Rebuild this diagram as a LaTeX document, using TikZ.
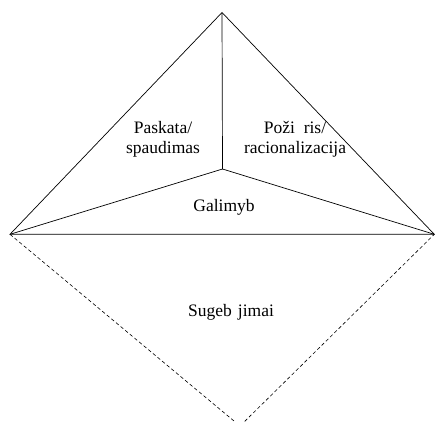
\documentclass[tikz,border=0pt]{standalone}
\usepackage{fontspec}
\setmainfont{Liberation Serif}
\begin{document}
\begin{tikzpicture}[x=1pt, y=-1pt,
    edge/.style={line width=0.7pt, black},
    lowedge/.style={line width=0.6pt, black, dash pattern=on 3.5pt off 2.5pt},
    lbl/.style={align=center, inner sep=0pt, font=\fontsize{17.5}{20}\selectfont}]

    % frame of the picture
    \clip (0,0) rectangle (435,421);

    % corners of the triangle and the lower point
    \coordinate (apex) at (222,12.5);
    \coordinate (left) at (10,234.3);
    \coordinate (right) at (434.3,234.3);
    \coordinate (mid) at (222.5,169);
    \coordinate (bottom) at (240,426);

    % upper triangle
    \draw[edge] (left) -- (apex) -- (right) -- cycle;
    \foreach \c in {apex,left,right} {
        \draw[edge] (mid) -- (\c);
    }

    % lower part, dashed
    \draw[lowedge] (left) -- (bottom) -- (right);

    % labels
    \node[lbl] (press) at (163,139) {Paskata/\\spaudimas};
    \node[lbl] (ratio) at (295,139) {Poži\hspace{0.5em}ris/\\racionalizacija};
    \node[lbl] (chance) at (224,207) {Galimyb};
    \node[lbl] (skill) at (231,312) {Sugeb\hspace{0.35em}jimai};

\end{tikzpicture}
\end{document}
